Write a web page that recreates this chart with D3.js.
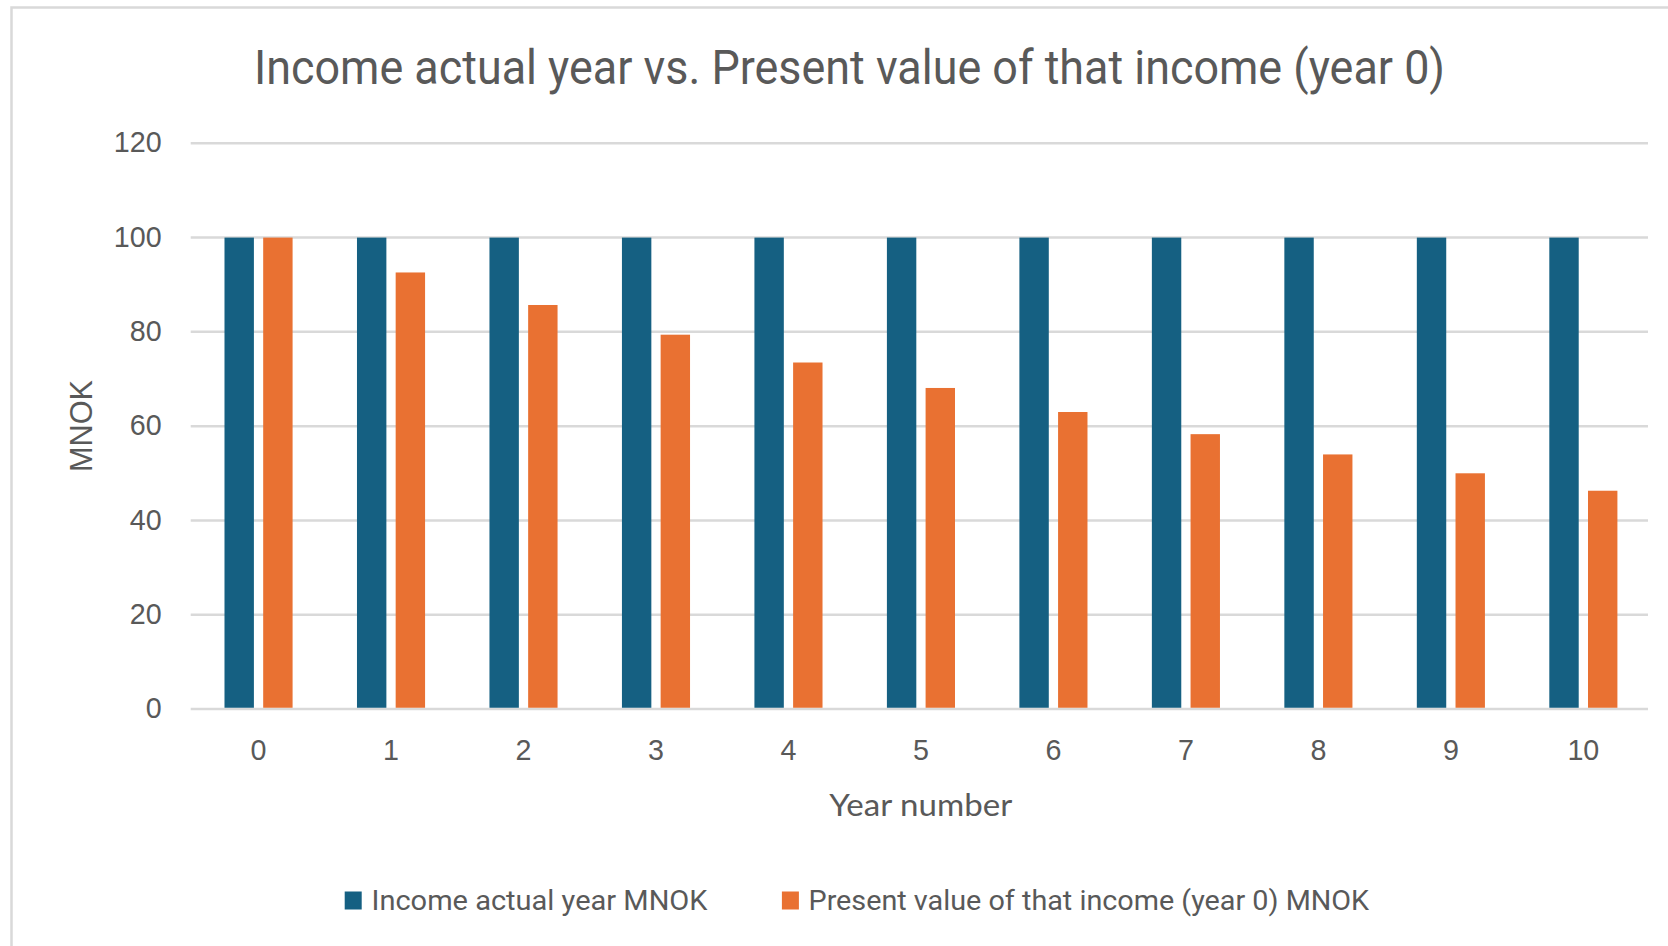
<!DOCTYPE html>
<html>
<head>
<meta charset="utf-8">
<script src="https://cdn.jsdelivr.net/npm/d3@7"></script>
<style>
  html, body { margin: 0; padding: 0; background: #ffffff; }
  svg { display: block; }
</style>
</head>
<body>
<svg id="chart" width="1668" height="946"></svg>
<script>
// Chart data
const years = ["0", "1", "2", "3", "4", "5", "6", "7", "8", "9", "10"];
const incomeActual = [100, 100, 100, 100, 100, 100, 100, 100, 100, 100, 100];
const presentValue = [100, 92.6, 85.7, 79.4, 73.5, 68.1, 63.0, 58.3, 54.0, 50.0, 46.3];
const seriesNames = ["Income actual year MNOK", "Present value of that income (year 0) MNOK"];
const yTicks = [0, 20, 40, 60, 80, 100, 120];

const chartTitle = "Income actual year vs. Present value of that income (year 0)";
const xTitle = "Year number";
const yTitle = "MNOK";

const colors = ["#156082", "#E97132"];
const textColor = "#595959";
const gridColor = "#D9D9D9";
const narrowFont = "'Liberation Sans Narrow', 'Roboto', 'Liberation Sans', sans-serif";
const numFont = "'Liberation Sans', Arial, sans-serif";

const svg = d3.select("#chart");

// Outer chart frame (left and top edges visible)
svg.append("path")
  .attr("d", "M11.5,946 V7.5 H1668")
  .attr("fill", "none")
  .attr("stroke", gridColor)
  .attr("stroke-width", 2.5);

// Plot area
const plot = { left: 190.7, right: 1648, top: 143.3, bottom: 709 };

const y = d3.scaleLinear().domain([0, 120]).range([plot.bottom, plot.top]);

const x0 = d3.scaleBand()
  .domain(years)
  .range([plot.left + 1.6, plot.right + 1.6])
  .paddingInner(0.486)
  .paddingOuter(0.243);

const x1 = d3.scaleBand()
  .domain([0, 1])
  .range([0, x0.bandwidth()])
  .paddingInner(0.24);

// Gridlines
svg.append("g")
  .selectAll("line")
  .data(yTicks)
  .join("line")
  .attr("x1", plot.left)
  .attr("x2", plot.right)
  .attr("y1", d => y(d))
  .attr("y2", d => y(d))
  .attr("stroke", gridColor)
  .attr("stroke-width", 2.5);

// Y axis labels
const yAxis = svg.append("g")
  .attr("transform", `translate(${plot.left - 29},0)`)
  .call(d3.axisLeft(y).tickValues(yTicks).tickSize(0).tickPadding(0));
yAxis.select(".domain").remove();
yAxis.selectAll("text")
  .attr("fill", textColor)
  .attr("font-family", numFont)
  .attr("font-size", 28.7)
  .attr("dy", "0.3em");

// X axis labels
const xAxis = svg.append("g")
  .attr("transform", `translate(0,${plot.bottom})`)
  .call(d3.axisBottom(x0).tickSize(0).tickPadding(0));
xAxis.select(".domain").remove();
xAxis.selectAll("text")
  .attr("fill", textColor)
  .attr("font-family", numFont)
  .attr("font-size", 28.7)
  .attr("dy", null)
  .attr("y", 51);

// Bars
const rows = years.map((yr, i) => ({ year: yr, values: [incomeActual[i], presentValue[i]] }));

const groups = svg.append("g")
  .selectAll("g")
  .data(rows)
  .join("g")
  .attr("transform", d => `translate(${x0(d.year)},0)`);

groups.selectAll("rect")
  .data(d => d.values.map((v, s) => ({ s, v })))
  .join("rect")
  .attr("x", d => x1(d.s))
  .attr("width", x1.bandwidth())
  .attr("y", d => y(d.v))
  .attr("height", d => y(0) - 1.25 - y(d.v))
  .attr("fill", d => colors[d.s]);

// Title
svg.append("text")
  .attr("x", 849.5)
  .attr("y", 84)
  .attr("text-anchor", "middle")
  .attr("fill", textColor)
  .attr("font-family", narrowFont)
  .attr("font-size", 48)
  .attr("textLength", 1191)
  .attr("lengthAdjust", "spacingAndGlyphs")
  .text(chartTitle);

// Axis titles
svg.append("text")
  .attr("x", 920.8)
  .attr("y", 815.7)
  .attr("text-anchor", "middle")
  .attr("fill", textColor)
  .attr("font-family", "'Lato', 'Open Sans', sans-serif")
  .attr("font-size", 31)
  .attr("textLength", 183)
  .attr("lengthAdjust", "spacingAndGlyphs")
  .text(xTitle);

svg.append("text")
  .attr("transform", "translate(92,426) rotate(-90)")
  .attr("text-anchor", "middle")
  .attr("fill", textColor)
  .attr("font-family", numFont)
  .attr("font-size", 30.5)
  .attr("textLength", 92)
  .attr("lengthAdjust", "spacingAndGlyphs")
  .text(yTitle);

// Legend
const legendItems = [
  { name: seriesNames[0], color: colors[0], sx: 344.7, tx: 371.5, tw: 336 },
  { name: seriesNames[1], color: colors[1], sx: 781.9, tx: 808.5, tw: 560.6 }
];
const legend = svg.append("g").selectAll("g").data(legendItems).join("g");
legend.append("rect")
  .attr("x", d => d.sx)
  .attr("y", 891.5)
  .attr("width", 17)
  .attr("height", 18)
  .attr("fill", d => d.color);
legend.append("text")
  .attr("x", d => d.tx)
  .attr("y", 909.5)
  .attr("fill", textColor)
  .attr("font-family", narrowFont)
  .attr("font-size", 28)
  .attr("textLength", d => d.tw)
  .attr("lengthAdjust", "spacingAndGlyphs")
  .text(d => d.name);
</script>
</body>
</html>
